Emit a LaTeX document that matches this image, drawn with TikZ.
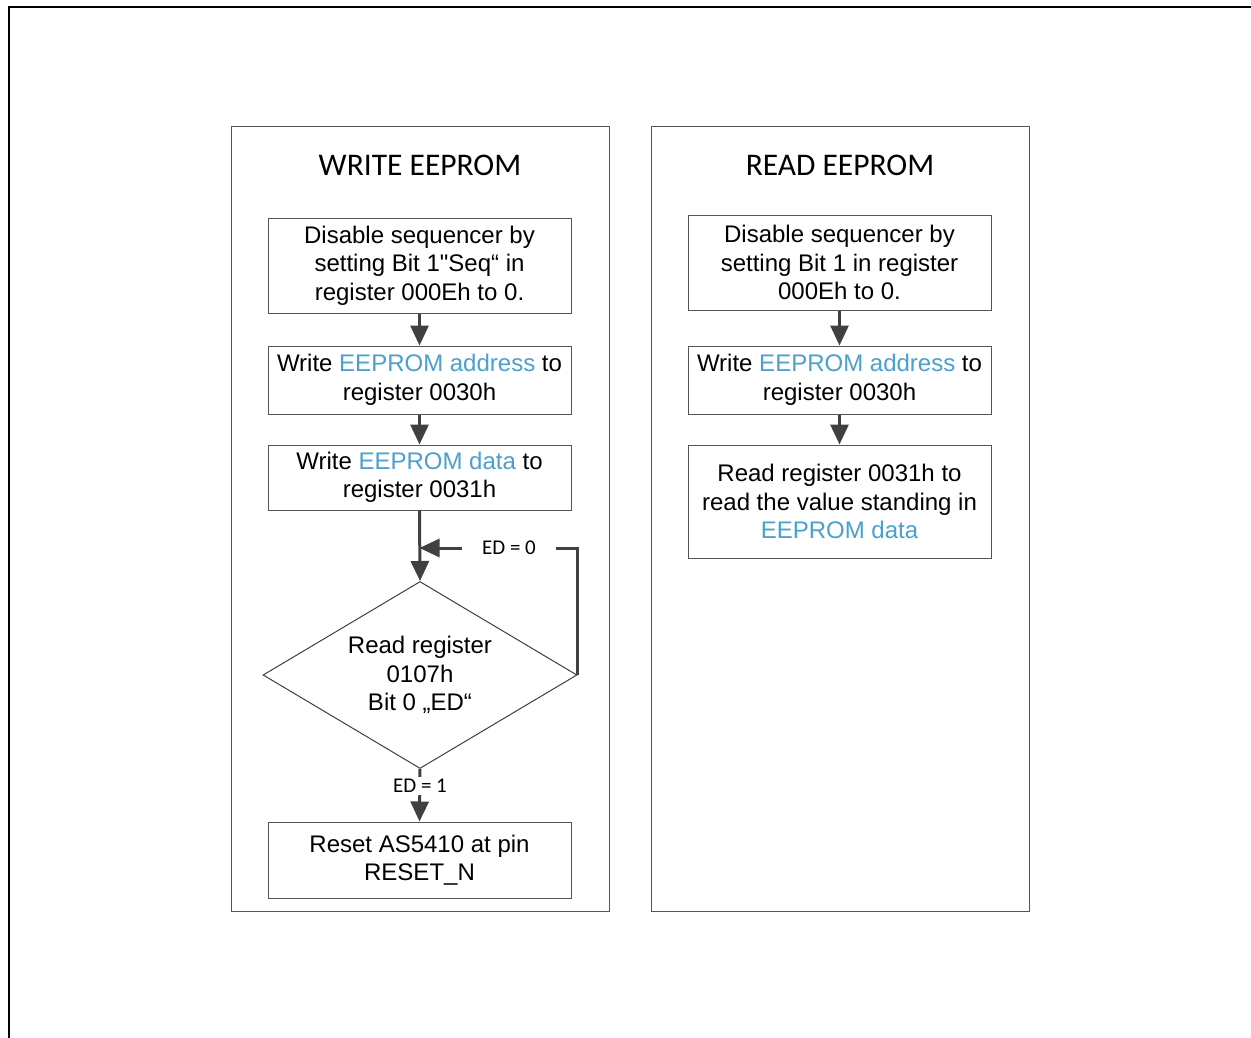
\documentclass[tikz,border=0pt]{standalone}
\usepackage{fontspec}
\setmainfont{Liberation Sans}
\newfontfamily\rawfont{Liberation Sans}
\newfontfamily\calfont{Carlito}
\usetikzlibrary{arrows.meta,shapes.geometric,calc}
\definecolor{eblue}{RGB}{75,160,205}
\definecolor{lgray}{RGB}{85,85,85}
\definecolor{agray}{RGB}{64,64,64}
\tikzset{
  box/.style={draw=lgray, line width=1pt, minimum width=303pt, inner sep=0pt, align=center,
    font=\fontsize{24}{28.5}\selectfont},
  panel/.style={draw=lgray, line width=1pt},
  title/.style={font=\calfont\fontsize{31.5}{34}\selectfont, inner sep=0pt},
  arr/.style={draw=agray, line width=3pt, -{Triangle[length=20pt,width=18pt]}},
  lbl/.style={font=\calfont\fontsize{21}{24}\selectfont, fill=white, inner xsep=6pt, inner ysep=2pt},
}
\newcommand{\dq}{{\rawfont"}}
\begin{document}
\begin{tikzpicture}[x=1pt,y=-1pt]
\useasboundingbox (0,0) rectangle (1251,1038);
\fill[white] (0,0) rectangle (1251,1038);
% outer frame
\draw[line width=2.2pt] (9,1038) -- (9,7) -- (1251,7);
% panels
\draw[panel] (231,127) rectangle (609,911);
\draw[panel] (651,127) rectangle (1029,911);
\node[title] (tw) at (420,165) {WRITE EEPROM};
\node[title] (tr) at (840,165) {READ EEPROM};
% write flow
\node[box, minimum height=95pt] (w1) at (419.5,265.5) {Disable sequencer by\\setting Bit 1\dq Seq“ in\\register 000Eh to 0.};
\node[box, minimum height=68pt] (w2) at (419.5,380) {Write {\color{eblue}EEPROM address} to\\register 0030h};
\node[box, minimum height=65pt] (w3) at (419.5,477.5) {Write {\color{eblue}EEPROM data} to\\register 0031h};
\node[diamond, draw=agray, line width=1pt, minimum width=314pt, minimum height=187pt, shape aspect=1.68,
  inner sep=0pt, align=center, font=\fontsize{24}{28.5}\selectfont] (d) at (420,675)
  {Read register\\0107h\\Bit 0 „ED“};
\node[box, minimum height=76pt] (w4) at (419.5,860) {Reset AS5410 at pin\\RESET\_N};
% read flow
\node[box, minimum height=95pt] (r1) at (839.5,262.5) {Disable sequencer by\\setting Bit 1 in register\\000Eh to 0.};
\node[box, minimum height=68pt] (r2) at (839.5,380) {Write {\color{eblue}EEPROM address} to\\register 0030h};
\node[box, minimum height=113pt] (r3) at (839.5,501.5) {Read register 0031h to\\read the value standing in\\{\color{eblue}EEPROM data}};
% connectors
\draw[arr] (w1.south) -- (w2.north);
\draw[arr] (w2.south) -- (w3.north);
\draw[arr] (w3.south) -- (d.north);
\draw[arr] (d.south) -- (w4.north);
\node[lbl] (ed1) at (420,786) {ED = 1};
\coordinate (lp) at (577.5,548);
\draw[arr] (d.east) -- (lp) -- (w3.south |- lp);
\node[lbl, inner xsep=20pt] (ed0) at (509,548) {ED = 0};
\draw[arr] (r1.south) -- (r2.north);
\draw[arr] (r2.south) -- (r3.north);
\end{tikzpicture}
\end{document}
